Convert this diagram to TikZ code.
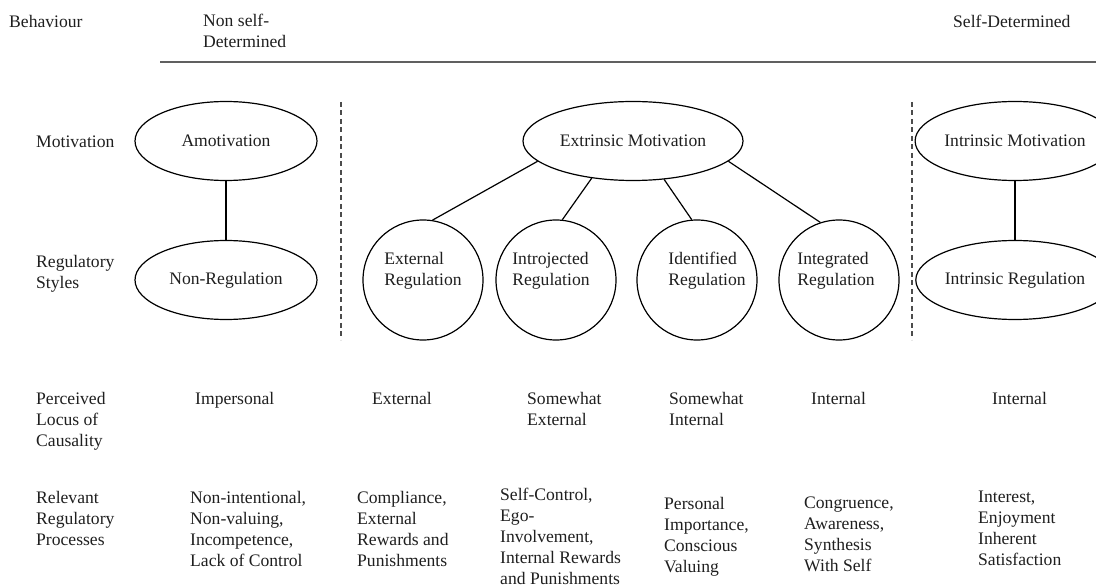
\documentclass[tikz,border=0pt]{standalone}
\usepackage{fontspec}
\setmainfont{Liberation Serif}
\usetikzlibrary{shapes.geometric}
\newcommand\fsz{\fontsize{17.6}{21}\selectfont}
\begin{document}
\begin{tikzpicture}[x=1pt,y=-1pt,
  txt/.style={font=\fsz, align=left, inner sep=0pt, anchor=north west, text=black!88},
  ell/.style={ellipse, draw, line width=1.2pt, minimum width=182pt, minimum height=79pt, inner sep=0pt, font=\fsz, text=black!88},
  circ/.style={circle, draw, line width=1.2pt, minimum size=120pt, inner sep=0pt},
  ctext/.style={font=\fsz, align=left, inner sep=0pt, text=black!88},
  conn/.style={line width=1.2pt},
  headline/.style={line width=2pt, gray!75!black},
  divider/.style={line width=1.3pt, gray!60!black, dash pattern=on 5pt off 3.5pt}]
\fill[white] (0,0) rectangle (1096,588);
\useasboundingbox (0,0) rectangle (1096,588);

% header
\node[txt] (beh) at (9,15) {Behaviour};
\node[txt] (nsd) at (203,14) {Non self-\\Determined};
\node[txt] (sd) at (953,15) {Self-Determined};
\coordinate (hl) at (160,62);
\coordinate (hr) at (1096,62);
\draw[headline] (hl) -- (hr);

% row labels
\node[txt] (lmot) at (36,136) {Motivation};
\node[txt] (lreg) at (36,255) {Regulatory\\Styles};
\node[txt] (lloc) at (36,392) {Perceived\\Locus of\\Causality};
\node[txt] (lpro) at (36,491) {Relevant\\Regulatory\\Processes};

% dividers
\coordinate (d1t) at (341,102);
\coordinate (d1b) at (341,340);
\coordinate (d2t) at (912,102);
\coordinate (d2b) at (912,340);
\draw[divider] (d1t) -- (d1b);
\draw[divider] (d2t) -- (d2b);

% ellipses
\node[ell] (am) at (226,141) {Amotivation};
\node[ell] (nr) at (226,280) {Non-Regulation};
\node[ell, minimum width=220pt] (em) at (633,141) {Extrinsic Motivation};
\node[ell, minimum width=184pt] (im) at (1015,141) {Intrinsic Motivation};
\node[ell, minimum width=184pt] (ir) at (1015,280) {Intrinsic Regulation};
\draw[conn] (am) -- (nr);
\draw[conn] (im) -- (ir);

% circles
\node[circ] (c1) at (423,280) {};
\node[circ] (c2) at (556,280) {};
\node[circ] (c3) at (697,280) {};
\node[circ] (c4) at (839,280) {};
\node[ctext] (t1) at (423,271) {External\\Regulation};
\node[ctext] (t2) at (551,271) {Introjected\\Regulation};
\node[ctext] (t3) at (707,271) {Identified\\Regulation};
\node[ctext] (t4) at (836,271) {Integrated\\Regulation};
\draw[conn] (em.192) -- (c1.81);
\draw[conn] (em.222) -- (c2.84);
\draw[conn] (em.309) -- (c3.95);
\draw[conn] (em.348) -- (c4.108);

% locus row
\node[txt] (p1) at (195,392) {Impersonal};
\node[txt] (p2) at (372,392) {External};
\node[txt] (p3) at (527,392) {Somewhat\\External};
\node[txt] (p4) at (669,392) {Somewhat\\Internal};
\node[txt] (p5) at (811,392) {Internal};
\node[txt] (p6) at (992,392) {Internal};

% processes row
\node[txt] (r1) at (190,491) {Non-intentional,\\Non-valuing,\\Incompetence,\\Lack of Control};
\node[txt] (r2) at (357,491) {Compliance,\\External\\Rewards and\\Punishments};
\node[txt] (r3) at (500,488) {Self-Control,\\Ego-\\Involvement,\\Internal Rewards\\and Punishments};
\node[txt] (r4) at (664,497) {Personal\\Importance,\\Conscious\\Valuing};
\node[txt] (r5) at (804,497) {Congruence,\\Awareness,\\Synthesis\\With Self};
\node[txt] (r6) at (978,491) {Interest,\\Enjoyment\\Inherent\\Satisfaction};
\end{tikzpicture}
\end{document}
